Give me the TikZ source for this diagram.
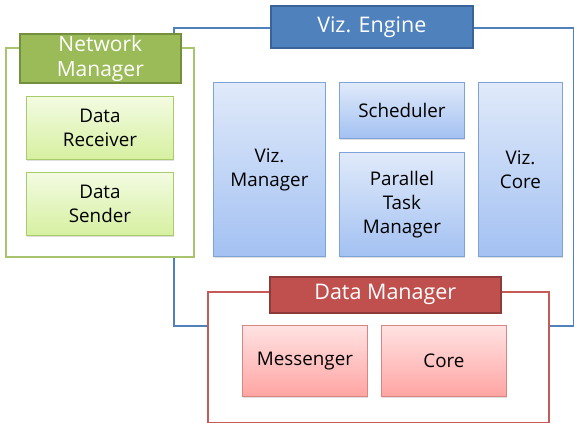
\documentclass[tikz,border=0pt]{standalone}
\usepackage{fontspec}
\setmainfont{Open Sans}
\usetikzlibrary{shadows}
\definecolor{bluetitle}{HTML}{4F81BD}
\definecolor{bluedark}{HTML}{3A6499}
\definecolor{bluetop}{HTML}{E0EAFA}
\definecolor{bluebot}{HTML}{A3C1F2}
\definecolor{blueedge}{HTML}{7DA3D8}
\definecolor{greentitle}{HTML}{9BBB59}
\definecolor{greendark}{HTML}{748F3E}
\definecolor{greenframe}{HTML}{A9C46E}
\definecolor{greentop}{HTML}{F3FBE2}
\definecolor{greenbot}{HTML}{D6F0A0}
\definecolor{greenedge}{HTML}{A9CC6A}
\definecolor{redtitle}{HTML}{C0504D}
\definecolor{reddark}{HTML}{8E3A38}
\definecolor{redframe}{HTML}{C65A57}
\definecolor{redtop}{HTML}{FFE2E2}
\definecolor{redbot}{HTML}{FFA5A3}
\definecolor{rededge}{HTML}{D98683}
\tikzset{
  frame/.style={draw, fill=white, line width=1.8pt, anchor=north west, inner sep=0pt},
  titlebox/.style={draw, line width=1.6pt, anchor=north west, text=white, align=center, inner sep=0pt,
    font=\fontsize{21.5}{25}\selectfont},
  innerbox/.style={draw, line width=0.9pt, anchor=north west, align=center, inner sep=0pt,
    font=\fontsize{18.8}{24}\selectfont,
    drop shadow={opacity=0.25, shadow xshift=1pt, shadow yshift=-1.2pt}},
  bluebox/.style={innerbox, draw=blueedge, top color=bluetop, bottom color=bluebot},
  greenbox/.style={innerbox, draw=greenedge, top color=greentop, bottom color=greenbot},
  redbox/.style={innerbox, draw=rededge, top color=redtop, bottom color=redbot},
}
\begin{document}
\begin{tikzpicture}[x=1pt,y=-1pt]
\useasboundingbox (0,0) rectangle (574,423);
% Viz Engine frame
\node[frame, draw=bluetitle, fill=none, minimum width=400, minimum height=298] (vizframe) at (173,27) {};
% Network Manager frame
\node[frame, draw=greenframe, line width=2pt, minimum width=188, minimum height=209] (netframe) at (5,47) {};
% Data Manager frame
\node[frame, draw=redframe, minimum width=341, minimum height=131] (dataframe) at (207,291) {};
% titles
\node[titlebox, fill=bluetitle, draw=bluedark, minimum width=202, minimum height=42] (viztitle) at (270,5) {Viz. Engine};
\node[titlebox, fill=greentitle, draw=greendark, minimum width=161, minimum height=49,
  font=\fontsize{21}{25}\selectfont] (nettitle) at (19,33) {Network\\Manager};
\node[titlebox, fill=redtitle, draw=reddark, minimum width=231, minimum height=36] (datatitle) at (269,276) {Data Manager};
% Network Manager contents
\node[greenbox, minimum width=147, minimum height=63] (receiver) at (26,96) {Data\\Receiver};
\node[greenbox, minimum width=147, minimum height=63] (sender) at (26,172) {Data\\Sender};
% Viz Engine contents
\node[bluebox, minimum width=112, minimum height=174] (vizmanager) at (213,82) {Viz.\\Manager};
\node[bluebox, minimum width=125, minimum height=56] (scheduler) at (339,82) {Scheduler};
\node[bluebox, minimum width=125, minimum height=104] (parallel) at (339,152) {Parallel\\Task\\Manager};
\node[bluebox, minimum width=84, minimum height=174] (vizcore) at (478,82) {Viz.\\Core};
% Data Manager contents
\node[redbox, minimum width=125, minimum height=71] (messenger) at (242,325) {Messenger};
\node[redbox, minimum width=125, minimum height=71] (core) at (381,325) {Core};
\end{tikzpicture}
\end{document}
